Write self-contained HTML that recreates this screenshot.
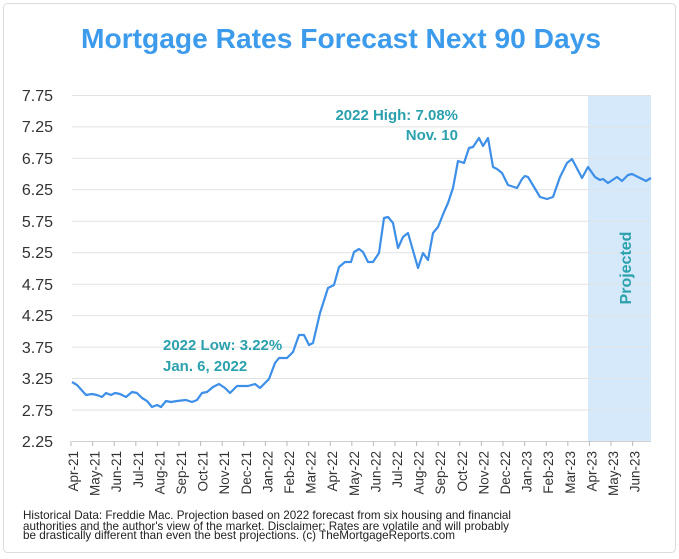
<!DOCTYPE html>
<html><head><meta charset="utf-8"><style>
html,body{margin:0;padding:0;background:#fff;}
svg{display:block;font-family:"Liberation Sans",sans-serif;}
</style></head><body>
<svg width="679" height="559" viewBox="0 0 679 559" xmlns="http://www.w3.org/2000/svg">
<rect x="3.5" y="3.5" width="672" height="549" rx="4" fill="#fff" stroke="#dcdcdc"/>
<text x="341" y="48" text-anchor="middle" font-size="28" font-weight="bold" fill="#3d9bec" textLength="520" lengthAdjust="spacingAndGlyphs">Mortgage Rates Forecast Next 90 Days</text>
<rect x="588" y="95" width="63" height="346" fill="#d6e9fa"/>
<g stroke="#e2e2e2" stroke-width="1">
<line x1="72" x2="651" y1="95.5" y2="95.5"/><line x1="72" x2="651" y1="126.9" y2="126.9"/>
<line x1="72" x2="651" y1="158.4" y2="158.4"/><line x1="72" x2="651" y1="189.8" y2="189.8"/>
<line x1="72" x2="651" y1="221.3" y2="221.3"/><line x1="72" x2="651" y1="252.7" y2="252.7"/>
<line x1="72" x2="651" y1="284.2" y2="284.2"/><line x1="72" x2="651" y1="315.6" y2="315.6"/>
<line x1="72" x2="651" y1="347.1" y2="347.1"/><line x1="72" x2="651" y1="378.5" y2="378.5"/>
<line x1="72" x2="651" y1="410" y2="410"/>
</g>
<line x1="72" x2="651" y1="441.5" y2="441.5" stroke="#d0d0d0"/>
<g font-size="16" fill="#333" text-anchor="end">
<text x="53" y="101">7.75</text><text x="53" y="132">7.25</text><text x="53" y="164">6.75</text>
<text x="53" y="195">6.25</text><text x="53" y="227">5.75</text><text x="53" y="258">5.25</text>
<text x="53" y="290">4.75</text><text x="53" y="321">4.25</text><text x="53" y="353">3.75</text>
<text x="53" y="384">3.25</text><text x="53" y="416">2.75</text><text x="53" y="447">2.25</text>
</g>
<g stroke="#bbb">
<line x1="71" x2="71" y1="441" y2="446"/><line x1="92.6" x2="92.6" y1="441" y2="446"/><line x1="114.2" x2="114.2" y1="441" y2="446"/><line x1="135.8" x2="135.8" y1="441" y2="446"/><line x1="157.4" x2="157.4" y1="441" y2="446"/><line x1="179" x2="179" y1="441" y2="446"/><line x1="200.6" x2="200.6" y1="441" y2="446"/><line x1="222.2" x2="222.2" y1="441" y2="446"/><line x1="243.8" x2="243.8" y1="441" y2="446"/><line x1="265.4" x2="265.4" y1="441" y2="446"/><line x1="287" x2="287" y1="441" y2="446"/><line x1="308.6" x2="308.6" y1="441" y2="446"/><line x1="330.2" x2="330.2" y1="441" y2="446"/><line x1="351.8" x2="351.8" y1="441" y2="446"/><line x1="373.4" x2="373.4" y1="441" y2="446"/><line x1="395" x2="395" y1="441" y2="446"/><line x1="416.6" x2="416.6" y1="441" y2="446"/><line x1="438.2" x2="438.2" y1="441" y2="446"/><line x1="459.8" x2="459.8" y1="441" y2="446"/><line x1="481.4" x2="481.4" y1="441" y2="446"/><line x1="503" x2="503" y1="441" y2="446"/><line x1="524.6" x2="524.6" y1="441" y2="446"/><line x1="546.2" x2="546.2" y1="441" y2="446"/><line x1="567.8" x2="567.8" y1="441" y2="446"/><line x1="589.4" x2="589.4" y1="441" y2="446"/><line x1="611" x2="611" y1="441" y2="446"/><line x1="632.6" x2="632.6" y1="441" y2="446"/>
</g>
<g font-size="13.5" fill="#333" text-anchor="end">
<text transform="translate(78,451) rotate(-90)">Apr-21</text>
<text transform="translate(99.6,451) rotate(-90)">May-21</text>
<text transform="translate(121.2,451) rotate(-90)">Jun-21</text>
<text transform="translate(142.8,451) rotate(-90)">Jul-21</text>
<text transform="translate(164.4,451) rotate(-90)">Aug-21</text>
<text transform="translate(186,451) rotate(-90)">Sep-21</text>
<text transform="translate(207.6,451) rotate(-90)">Oct-21</text>
<text transform="translate(229.2,451) rotate(-90)">Nov-21</text>
<text transform="translate(250.8,451) rotate(-90)">Dec-21</text>
<text transform="translate(272.4,451) rotate(-90)">Jan-22</text>
<text transform="translate(294,451) rotate(-90)">Feb-22</text>
<text transform="translate(315.6,451) rotate(-90)">Mar-22</text>
<text transform="translate(337.2,451) rotate(-90)">Apr-22</text>
<text transform="translate(358.8,451) rotate(-90)">May-22</text>
<text transform="translate(380.4,451) rotate(-90)">Jun-22</text>
<text transform="translate(402,451) rotate(-90)">Jul-22</text>
<text transform="translate(423.6,451) rotate(-90)">Aug-22</text>
<text transform="translate(445.2,451) rotate(-90)">Sep-22</text>
<text transform="translate(466.8,451) rotate(-90)">Oct-22</text>
<text transform="translate(488.4,451) rotate(-90)">Nov-22</text>
<text transform="translate(510,451) rotate(-90)">Dec-22</text>
<text transform="translate(531.6,451) rotate(-90)">Jan-23</text>
<text transform="translate(553.2,451) rotate(-90)">Feb-23</text>
<text transform="translate(574.8,451) rotate(-90)">Mar-23</text>
<text transform="translate(596.4,451) rotate(-90)">Apr-23</text>
<text transform="translate(618,451) rotate(-90)">May-23</text>
<text transform="translate(639.6,451) rotate(-90)">Jun-23</text>
</g>
<polyline fill="none" stroke="#3d8fe8" stroke-width="2.2" stroke-linejoin="round" points="72,382 77,385 86,395 92,394 97,395 102,397 106,393 111,395 115,393 120,394 126,397 132,392 137,393 142,398 147,401 152,407 157,405 161,407 166,401 171,402 177,401 186,400 192,402 197,400 202,393 207,392 213,387 219,384 225,388 230,393 237,386 248,386 255,384 260,388 265,383 269,379 275,363 279,358 287,358 293,352 299,335 304,335 309,345 313,343 320,313 328,288 334,285 339,267 345,262 351,262 354,252 359,249 363,252 368,262 373,262 379,253 384,218 388,217 393,223 398,248 403,237 408,233 418,268 423,253 428,260 433,233 438,227 444,212 448,203 453,188 458,161 464,163 469,148 473,147 479,138 483,146 488,138 493,167 497,169 502,173 508,185 517,188 522,179 525,176 528,177 534,187 540,197 547,199 553,197 560,177 567,163 572,159 582,178 588,167 595,177 600,180 603,179 608,183 617,177 622,181 628,175 632,174 638,177 646,181 651,178"/>
<g font-size="15" font-weight="bold" fill="#2aa1ad">
<text x="458" y="120" text-anchor="end">2022 High: 7.08%</text>
<text x="458" y="140" text-anchor="end">Nov. 10</text>
<text x="163" y="350">2022 Low: 3.22%</text>
<text x="163" y="371">Jan. 6, 2022</text>
<text transform="translate(631,268) rotate(-90)" text-anchor="middle" font-size="16">Projected</text>
</g>
<g font-size="12" fill="#222">
<text x="23" y="519" textLength="488" lengthAdjust="spacingAndGlyphs">Historical Data: Freddie Mac. Projection based on 2022 forecast from six housing and financial</text>
<text x="23" y="530" textLength="486" lengthAdjust="spacingAndGlyphs">authorities and the author's view of the market. Disclaimer: Rates are volatile and will probably</text>
<text x="23" y="539" textLength="432" lengthAdjust="spacingAndGlyphs">be drastically different than even the best projections. (c) TheMortgageReports.com</text>
</g>
</svg>
</body></html>
